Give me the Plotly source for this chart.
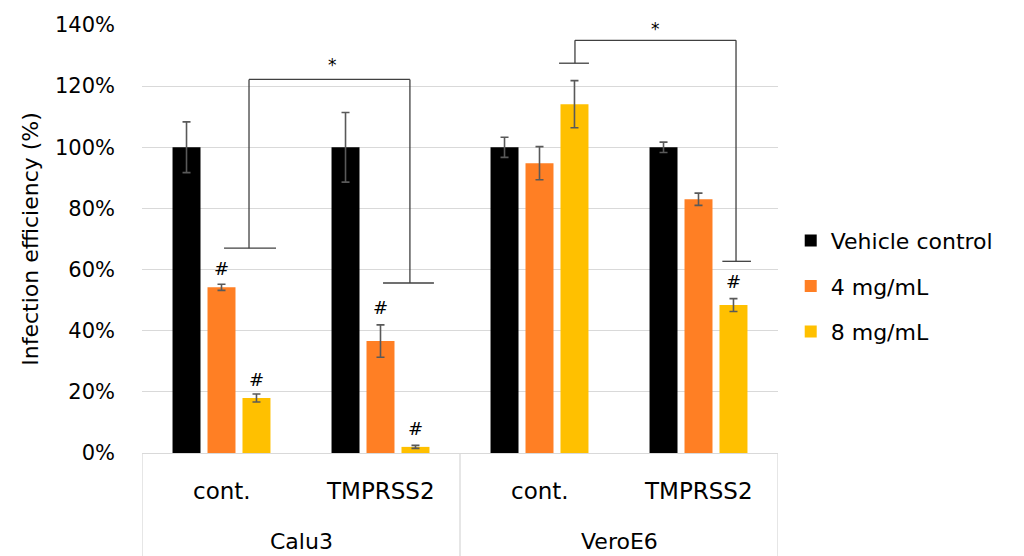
import plotly.graph_objects as go

# ---- data ----
cells = ["Calu3", "Calu3", "VeroE6", "VeroE6"]
conditions = ["cont.", "TMPRSS2", "cont.", "TMPRSS2"]
groups = ["Calu3", "VeroE6"]
series_names = ["Vehicle control", "4 mg/mL", "8 mg/mL"]
vehicle = [100, 100, 100, 100]
vehicle_err = [8.3, 11.4, 3.3, 1.7]
mg4 = [54.2, 36.6, 94.8, 83.0]
mg4_err = [1.0, 5.3, 5.4, 2.0]
mg8 = [18.0, 2.0, 114.1, 48.4]
mg8_err = [1.3, 0.5, 7.7, 2.1]
tick_vals = [0, 20, 40, 60, 80, 100, 120, 140]
tick_text = ["0%", "20%", "40%", "60%", "80%", "100%", "120%", "140%"]
# '#' marks: (category index, series slot, y)
hash_marks = [(0, 1, 60.5), (0, 2, 24.0), (1, 1, 47.7), (1, 2, 8.0), (3, 2, 56.0)]
# significance brackets
brackets = [
    dict(xl=0.173, lcap=(0.016, 0.343), ly=67.0, xr=1.185, rcap=(1.016, 1.336), ry=55.6, top=122.2, star=(0.70, 126.8)),
    dict(xl=2.223, lcap=(2.123, 2.311), ly=127.5, xr=3.236, rcap=(3.150, 3.330), ry=62.7, top=135.0, star=(2.73, 138.8)),
]

colors = ["#000000", "#FF7F24", "#FFC000"]
x = list(range(len(conditions)))
FONT = "DejaVu Sans"
err_color = "#595959"

fig = go.Figure()
for name, vals, errs, col in zip(series_names, [vehicle, mg4, mg8],
                                 [vehicle_err, mg4_err, mg8_err], colors):
    fig.add_trace(go.Bar(
        x=x, y=vals, name=name, marker=dict(color=col, line=dict(width=0)),
        legendgroup=name,
        error_y=dict(type="data", array=errs, visible=True, color=err_color,
                     thickness=1.6, width=4),
    ))

slot = 0.22
for ci, si, yv in hash_marks:
    fig.add_annotation(x=ci + (si - 1) * slot, y=yv, text="#", showarrow=False,
                       font=dict(family=FONT, size=18, color="#000000"),
                       xref="x", yref="y")

line_style = dict(color="#404040", width=1.3)
for b in brackets:
    fig.add_shape(type="line", x0=b["xl"], x1=b["xr"], y0=b["top"], y1=b["top"], line=line_style)
    fig.add_shape(type="line", x0=b["xl"], x1=b["xl"], y0=b["top"], y1=b["ly"], line=line_style)
    fig.add_shape(type="line", x0=b["lcap"][0], x1=b["lcap"][1], y0=b["ly"], y1=b["ly"], line=line_style)
    fig.add_shape(type="line", x0=b["xr"], x1=b["xr"], y0=b["top"], y1=b["ry"], line=line_style)
    fig.add_shape(type="line", x0=b["rcap"][0], x1=b["rcap"][1], y0=b["ry"], y1=b["ry"], line=line_style)
    fig.add_annotation(x=b["star"][0], y=b["star"][1], text="*", showarrow=False,
                       font=dict(family=FONT, size=17, color="#000000"))

# category labels
for i, c in enumerate(conditions):
    fig.add_annotation(x=i, y=-0.089, xref="x", yref="paper", text=c, showarrow=False,
                       font=dict(family=FONT, size=23, color="#000000"), yanchor="middle")
for gi, g in enumerate(groups):
    fig.add_annotation(x=gi * 2 + 0.5, y=-0.207, xref="x", yref="paper", text=g, showarrow=False,
                       font=dict(family=FONT, size=22, color="#000000"), yanchor="middle")

# category box lines
box_col = "#D9D9D9"
for xv in [-0.5, 1.5, 3.5]:
    fig.add_shape(type="line", xref="x", yref="paper", x0=xv, x1=xv, y0=0, y1=-0.25,
                  line=dict(color=box_col, width=1.3))

fig.update_layout(
    width=1024, height=556,
    margin=dict(l=142, r=246, t=25, b=103),
    paper_bgcolor="white", plot_bgcolor="white",
    barmode="group", bargap=0.34, bargroupgap=0.2,
    font=dict(family=FONT, color="#000000"),
    legend=dict(x=1.02, y=0.39, xanchor="left", yanchor="middle",
                font=dict(family=FONT, size=22, color="#000000"),
                tracegroupgap=14, traceorder="grouped", itemwidth=30),
    showlegend=True,
)
fig.update_xaxes(range=[-0.5, 3.5], showticklabels=False, showgrid=False, zeroline=False,
                 showline=True, linecolor=box_col, linewidth=1.3, ticks="")
fig.update_yaxes(range=[0, 140], tickvals=tick_vals, ticktext=tick_text,
                 showgrid=True, gridcolor="#D9D9D9", gridwidth=1.3, zeroline=False,
                 showline=False, ticks="", ticklabelstandoff=26,
                 tickfont=dict(family=FONT, size=21, color="#000000"),
                 title=dict(text="Infection efficiency (%)", standoff=10,
                            font=dict(family=FONT, size=22, color="#000000")))

fig.write_html("out.html")
